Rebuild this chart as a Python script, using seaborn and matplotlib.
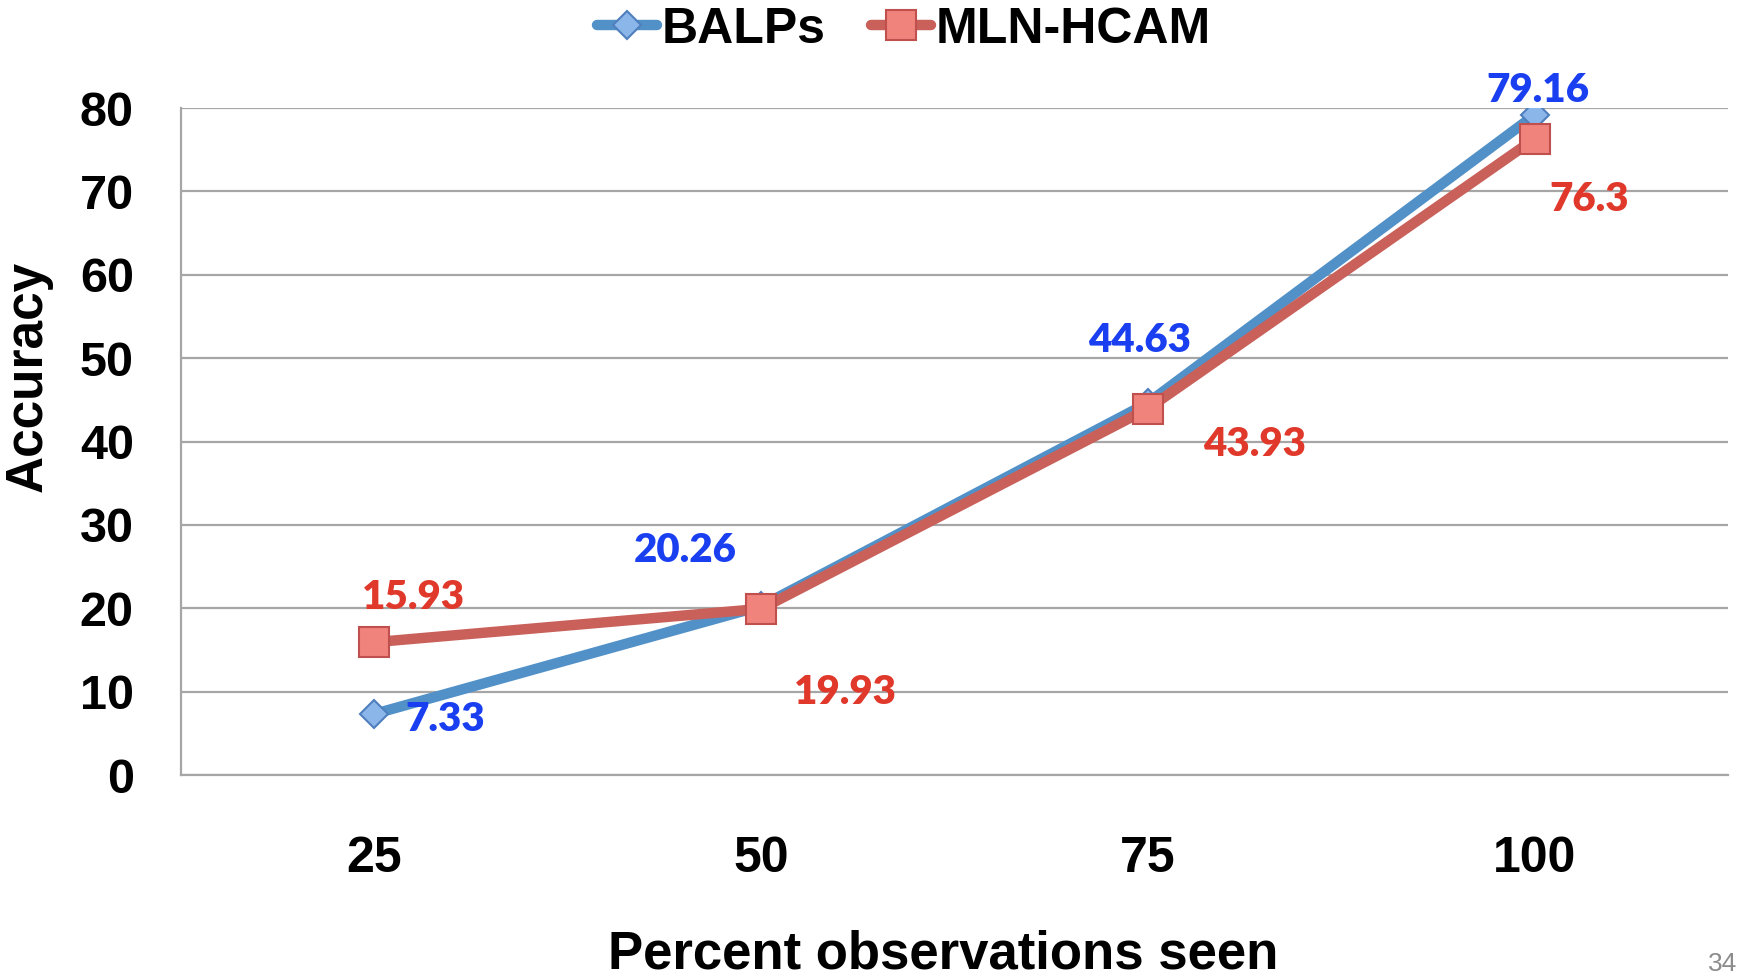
import matplotlib
matplotlib.use("Agg")
import matplotlib.pyplot as plt
import seaborn as sns
import pandas as pd

# ---- data ----
categories = ["25", "50", "75", "100"]
balps = [7.33, 20.26, 44.63, 79.16]
mln_hcam = [15.93, 19.93, 43.93, 76.3]
series_names = ["BALPs", "MLN-HCAM"]
y_ticks = [0, 10, 20, 30, 40, 50, 60, 70, 80]

sns.set_theme(style="white")
plt.rcParams['font.family'] = ['Liberation Sans', 'DejaVu Sans']
plt.rcParams['text.color'] = 'black'
plt.rcParams['axes.labelcolor'] = 'black'
plt.rcParams['xtick.color'] = 'black'
plt.rcParams['ytick.color'] = 'black'

df = pd.DataFrame({
    "Percent observations seen": categories * 2,
    "Accuracy": balps + mln_hcam,
    "series": [series_names[0]] * 4 + [series_names[1]] * 4,
})

W, H = 1741, 980
fig = plt.figure(figsize=(W / 100, H / 100), dpi=100)
ax = fig.add_axes([181 / W, 1 - 775 / H, (1728 - 181) / W, (775 - 108) / H])

blue_line = "#5191c8"
red_line = "#c9605a"
styles = {
    "BALPs": dict(color=blue_line, marker="D", markersize=14.5,
                  markerfacecolor="#8bb6ea", markeredgecolor="#4f7fbd",
                  markeredgewidth=1.5),
    "MLN-HCAM": dict(color=red_line, marker="s", markersize=21,
                     markerfacecolor="#f0847d", markeredgecolor="#c0504d",
                     markeredgewidth=1.5),
}
for i, name in enumerate(series_names):
    sub = df[df["series"] == name]
    sns.lineplot(data=sub, x="Percent observations seen", y="Accuracy",
                 ax=ax, linewidth=7.5, label=name, zorder=3 + i,
                 sort=False, **styles[name])

# data labels
label_colors = {"BALPs": "#1a3ff0", "MLN-HCAM": "#e0392b"}
offsets = {
    "BALPs": [(51, -4), (-55, 40), (-6, 45), (2, 18)],
    "MLN-HCAM": [(28, 32), (61, -60), (77, -26), (39, -44)],
}
for name, vals in zip(series_names, [balps, mln_hcam]):
    for i, v in enumerate(vals):
        ax.annotate(f"{v:g}", xy=(i, v), xytext=offsets[name][i],
                    textcoords="offset points", ha="center", va="center",
                    fontsize=29, fontweight="heavy", family=["Lato", "DejaVu Sans"],
                    color=label_colors[name], zorder=10)

ax.set_xlim(-0.5, 3.5)
ax.set_ylim(0, 80)
ax.set_yticks(y_ticks)
ax.grid(axis="y", color="#a6a6a6", linewidth=1.6)
ax.grid(axis="x", visible=False)
for s in ["top", "right"]:
    ax.spines[s].set_visible(False)
for s in ["left", "bottom"]:
    ax.spines[s].set_color("#a6a6a6")
    ax.spines[s].set_linewidth(1.6)

ax.tick_params(axis="y", which="major", direction="out", length=10,
               width=1.6, color="#a6a6a6", pad=24, labelsize=35,
               labelcolor="black")
ax.tick_params(axis="x", which="major", length=0, pad=44, labelsize=36,
               labelcolor="black")
ax.set_xticks([-0.5, 0.5, 1.5, 2.5, 3.5], minor=True)
ax.tick_params(axis="x", which="minor", direction="out", length=10,
               width=1.6, color="#a6a6a6")
for lab in ax.get_xticklabels() + ax.get_yticklabels():
    lab.set_fontweight("bold")

ax.set_xlabel("Percent observations seen", fontsize=38, fontweight="bold")
ax.set_ylabel("Accuracy", fontsize=37, fontweight="bold")
ax.xaxis.set_label_coords(0.4926, -0.232)
ax.yaxis.set_label_coords(-0.083, 0.598)

leg = ax.legend(loc="center", bbox_to_anchor=(904 / W, 1 - 30 / H),
                bbox_transform=fig.transFigure, ncol=2, frameon=False,
                prop=dict(size=36, weight="bold"), handlelength=1.2,
                handletextpad=0.1, columnspacing=0.9, borderpad=0)

fig.text(1708 / W, 1 - 952 / H, "34", ha="left", va="top", fontsize=19,
         color="#8c8c8c")

fig.savefig("out.png", dpi=100)
